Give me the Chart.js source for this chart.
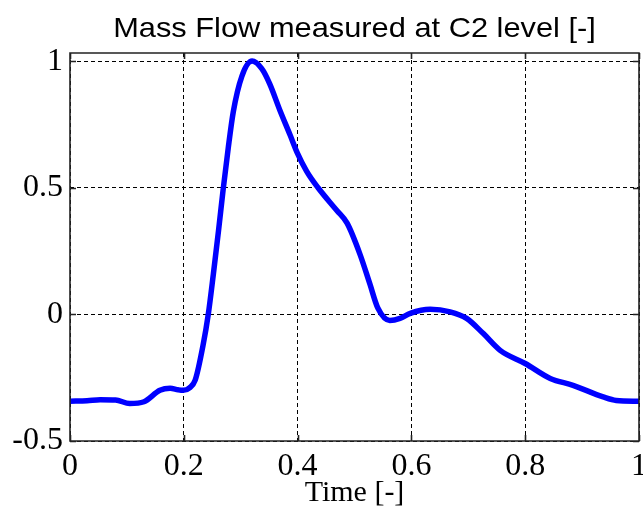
<html lang="en">

<head>
    <meta charset="UTF-8">
    <title>Mass Flow measured at C2 level</title>
    <script src="https://cdn.jsdelivr.net/npm/chart.js"></script>
    <style>
        body { margin: 0; background: #fff; }
        #wrap { width: 643px; height: 511px; }
    </style>
</head>

<body>
    <div id="wrap">
        <canvas id="flowChart" width="643" height="511"></canvas>
    </div>

    <script>
        // values
        const timeValues = [0, 0.03, 0.053, 0.08, 0.105, 0.13, 0.158, 0.176, 0.19, 0.199, 0.21, 0.22, 0.234,
            0.243, 0.252, 0.261, 0.269, 0.278, 0.287, 0.302, 0.32, 0.337, 0.351, 0.369, 0.387, 0.399, 0.416,
            0.436, 0.469, 0.487, 0.51, 0.527, 0.541, 0.562, 0.58, 0.598, 0.633, 0.668, 0.697, 0.726, 0.756,
            0.80, 0.844, 0.884, 0.937, 0.96, 1.0];
        const flowValues = [-0.343, -0.341, -0.337, -0.338, -0.352, -0.345, -0.30, -0.292, -0.298, -0.300,
            -0.29, -0.26, -0.12, 0.0, 0.16, 0.33, 0.49, 0.655, 0.80, 0.94, 1.0, 0.97, 0.91, 0.805, 0.707,
            0.64, 0.565, 0.5, 0.41, 0.36, 0.235, 0.12, 0.025, -0.024, -0.016, 0.004, 0.02, 0.01, -0.016,
            -0.075, -0.142, -0.194, -0.253, -0.28, -0.326, -0.34, -0.343];
        const xTicks = [0, 0.2, 0.4, 0.6, 0.8, 1];
        const yTicks = [-0.5, 0, 0.5, 1];
        const chartTitle = 'Mass Flow measured at C2 level [-]';
        const xTitle = 'Time [-]';

        const points = timeValues.map((t, i) => ({ x: t, y: flowValues[i] }));

        // solid box with small inward ticks, like the matlab axes
        const framePlugin = {
            id: 'frame',
            afterDatasetsDraw(chart) {
                const ctx = chart.ctx;
                const a = chart.chartArea;
                const L = Math.round(a.left), R = Math.round(a.right);
                const T = Math.round(a.top), B = Math.round(a.bottom);
                ctx.save();
                ctx.setLineDash([]);
                ctx.strokeStyle = '#222';
                ctx.lineWidth = 1.6;
                ctx.beginPath();
                ctx.moveTo(L, T); ctx.lineTo(R, T); ctx.lineTo(R, B); ctx.lineTo(L, B); ctx.closePath();
                xTicks.forEach(v => {
                    const x = Math.round(chart.scales.x.getPixelForValue(v)) + 0.5;
                    ctx.moveTo(x, T); ctx.lineTo(x, T + 6);
                    ctx.moveTo(x, B); ctx.lineTo(x, B - 6);
                });
                yTicks.forEach(v => {
                    const y = Math.round(chart.scales.y.getPixelForValue(v)) + 0.5;
                    ctx.moveTo(L, y); ctx.lineTo(L + 6, y);
                    ctx.moveTo(R, y); ctx.lineTo(R - 6, y);
                });
                ctx.stroke();
                ctx.restore();
            },
            afterDraw(chart) {
                const ctx = chart.ctx;
                const a = chart.chartArea;
                ctx.save();
                ctx.fillStyle = '#000';
                ctx.font = '28px "Liberation Sans", Arial, sans-serif';
                ctx.textAlign = 'center';
                ctx.textBaseline = 'alphabetic';
                ctx.translate((a.left + a.right) / 2, 37);
                ctx.scale(1.1, 1);
                ctx.fillText(chartTitle, 0, 0);
                ctx.restore();
            }
        };

        const serif = '"Liberation Serif", "Times New Roman", serif';
        const tickText = v => String(Math.round(v * 100) / 100);

        new Chart(document.getElementById('flowChart'), {
            type: 'line',
            data: {
                datasets: [{
                    data: points,
                    borderColor: '#0000ff',
                    borderWidth: 5.5,
                    pointRadius: 0,
                    fill: false,
                    cubicInterpolationMode: 'monotone'
                }]
            },
            options: {
                responsive: false,
                animation: false,
                layout: { padding: { top: 53, right: 4, left: 0, bottom: 0 } },
                plugins: { legend: { display: false }, tooltip: { enabled: false } },
                scales: {
                    x: {
                        type: 'linear',
                        min: 0,
                        max: 1,
                        afterBuildTicks: s => { s.ticks = xTicks.map(v => ({ value: v })); },
                        afterFit: s => { s.height = 70; s.paddingLeft = 0; s.paddingRight = 0; },
                        grid: { color: '#000', lineWidth: 1, drawTicks: false },
                        border: { display: false, dash: [4, 3] },
                        ticks: {
                            color: '#000',
                            padding: 6,
                            maxRotation: 0,
                            autoSkip: false,
                            callback: tickText,
                            font: { family: serif, size: 32 }
                        },
                        title: {
                            display: true,
                            text: xTitle,
                            color: '#000',
                            padding: { top: 0, bottom: 0 },
                            font: { family: serif, size: 30 }
                        }
                    },
                    y: {
                        min: -0.5,
                        max: 1.032,
                        afterBuildTicks: s => { s.ticks = yTicks.map(v => ({ value: v })); },
                        afterFit: s => { s.width = 70; s.paddingTop = 0; s.paddingBottom = 0; },
                        grid: { color: '#000', lineWidth: 1, drawTicks: false },
                        border: { display: false, dash: [4, 3] },
                        ticks: {
                            color: '#000',
                            padding: 7,
                            callback: tickText,
                            font: { family: serif, size: 32 }
                        }
                    }
                }
            },
            plugins: [framePlugin]
        });
    </script>
</body>

</html>
